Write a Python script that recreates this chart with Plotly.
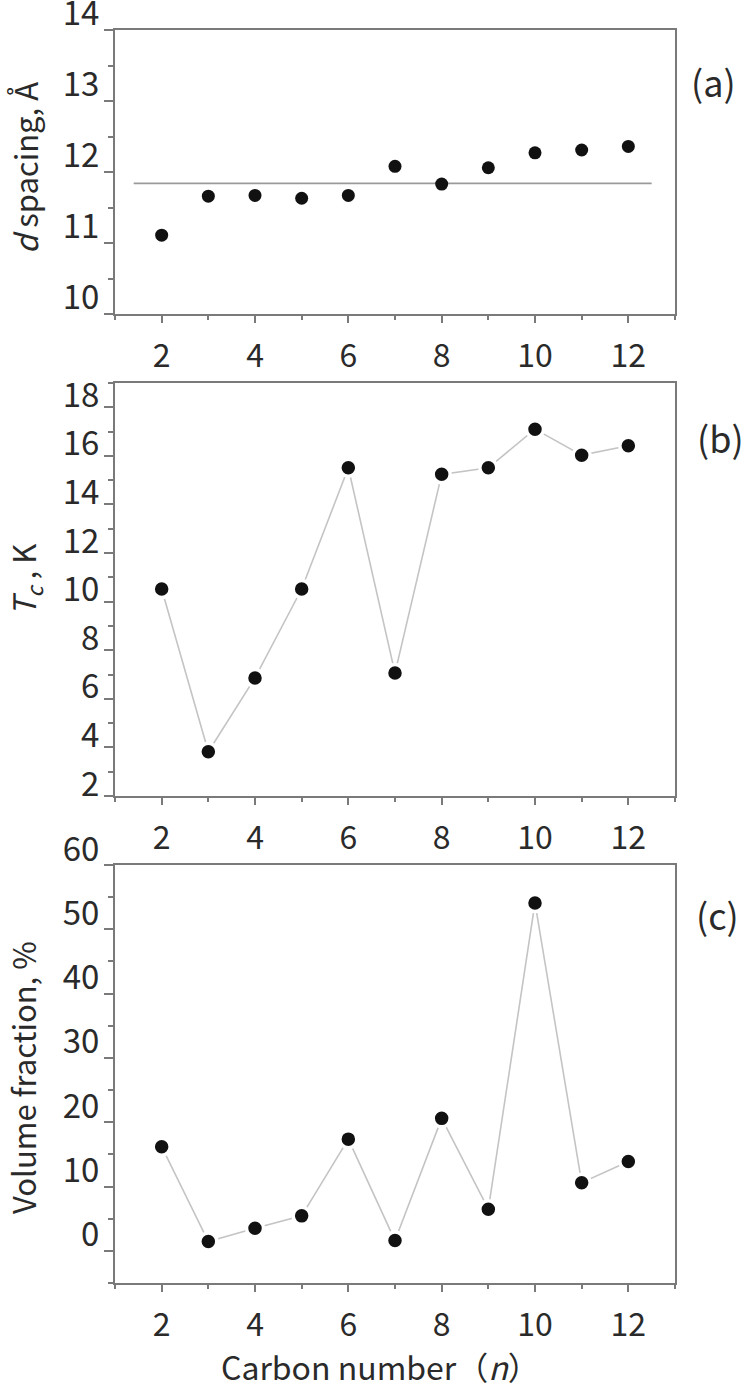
import plotly.graph_objects as go

# ---- data ----
carbon_n = [2, 3, 4, 5, 6, 7, 8, 9, 10, 11, 12]
d_spacing = [11.11, 11.66, 11.67, 11.63, 11.67, 12.08, 11.83, 12.06, 12.27, 12.31, 12.36]
ref_line_n = [1.4, 12.5]
ref_line_d = 11.84
tc_values = [10.52, 3.82, 6.86, 10.52, 15.51, 7.06, 15.24, 15.51, 17.10, 16.03, 16.42]
vol_fraction = [16.2, 1.45, 3.5, 5.44, 17.37, 1.6, 20.6, 6.48, 54.1, 10.6, 13.9]

panel_labels = ["(a)", "(b)", "(c)"]
y_titles = ["<i>d</i> spacing, Å", "<i>T<sub>c</sub></i> , K", "Volume fraction, %"]
x_title = "Carbon number（<i>n</i>）"

W, H = 750, 1388
FONT = "Noto Sans CJK JP"
TXT = "#2a2a2a"
AX = "#7a7a7a"
LINE = "#c4c4c4"


def py(px):
    return 1 - px / H


fig = go.Figure()

# panel (a)
fig.add_trace(go.Scatter(x=ref_line_n, y=[ref_line_d, ref_line_d], mode="lines",
                         line=dict(color="#9a9a9a", width=1.6), xaxis="x", yaxis="y",
                         showlegend=False, hoverinfo="skip"))
fig.add_trace(go.Scatter(x=carbon_n, y=d_spacing, mode="markers",
                         marker=dict(color="#111111", size=13), xaxis="x", yaxis="y",
                         showlegend=False))
# panel (b)
fig.add_trace(go.Scatter(x=carbon_n, y=tc_values, mode="lines+markers",
                         line=dict(color=LINE, width=1.6),
                         marker=dict(color="#111111", size=17, line=dict(color="white", width=3.5)),
                         xaxis="x2", yaxis="y2", showlegend=False))
# panel (c)
fig.add_trace(go.Scatter(x=carbon_n, y=vol_fraction, mode="lines+markers",
                         line=dict(color=LINE, width=1.6),
                         marker=dict(color="#111111", size=17, line=dict(color="white", width=3.5)),
                         xaxis="x3", yaxis="y3", showlegend=False))

xdom = [115 / W, 675 / W]
panels = [
    # (top px, bottom px, range, dtick, minor dtick, label shift)
    (30, 314, [10, 14], 1, 0.5, 17),
    (383, 796, [2, 19], 2, 1, 12),
    (865, 1283, [-5, 60], 10, 5, 16),
]

common_x = dict(range=[1, 13], tick0=0, dtick=2, ticks="outside", ticklen=7, tickwidth=1.5,
                tickcolor=AX, showline=True, linecolor=AX, linewidth=2, mirror=True,
                showgrid=False, zeroline=False, domain=xdom, automargin=False,
                ticklabelstandoff=6,
                tickfont=dict(family=FONT, size=32, color=TXT),
                minor=dict(dtick=1, ticks="outside", ticklen=4, tickcolor=AX, tickwidth=1.5, showgrid=False))

for i, (top, bot, rng, dt, mdt, shift) in enumerate(panels):
    sfx = "" if i == 0 else str(i + 1)
    fig.layout["xaxis" + sfx] = dict(common_x, anchor="y" + sfx)
    fig.layout["yaxis" + sfx] = dict(
        range=rng, domain=[py(bot), py(top)], anchor="x" + sfx, tick0=0, dtick=dt,
        ticks="outside", ticklen=9, tickwidth=1.5, tickcolor=AX, showline=True,
        linecolor=AX, linewidth=2, mirror=True, showgrid=False, zeroline=False,
        automargin=False, ticklabelshift=-shift, ticklabelstandoff=-2,
        ticklabeloverflow="allow",
        tickfont=dict(family=FONT, size=33, color=TXT),
        minor=dict(dtick=mdt, ticks="outside", ticklen=5, tickcolor=AX, tickwidth=1.5, showgrid=False))

annotations = []
label_pos = [(713, 81), (720, 437), (717, 914)]
for lab, (x, y) in zip(panel_labels, label_pos):
    annotations.append(dict(text=lab, x=x / W, y=py(y), xref="paper", yref="paper",
                            xanchor="center", yanchor="middle",
                            showarrow=False, font=dict(family=FONT, size=36, color=TXT)))
ytitle_pos = [(24, 168), (24, 580), (22, 1078)]
for t, (x, y) in zip(y_titles, ytitle_pos):
    annotations.append(dict(text=t, x=x / W, y=py(y), xref="paper", yref="paper",
                            xanchor="center", yanchor="middle",
                            showarrow=False, textangle=-90,
                            font=dict(family=FONT, size=31, color=TXT)))
annotations.append(dict(text=x_title, x=380 / W, y=py(1366), xref="paper", yref="paper",
                        xanchor="center", yanchor="middle",
                        showarrow=False, font=dict(family=FONT, size=32, color=TXT)))

fig.update_layout(width=W, height=H, margin=dict(l=0, r=0, t=0, b=0, autoexpand=False),
                  paper_bgcolor="white", plot_bgcolor="white",
                  annotations=annotations)

fig.write_html("out.html", config={"displayModeBar": False},
               post_script="document.body.style.margin='0px';")
